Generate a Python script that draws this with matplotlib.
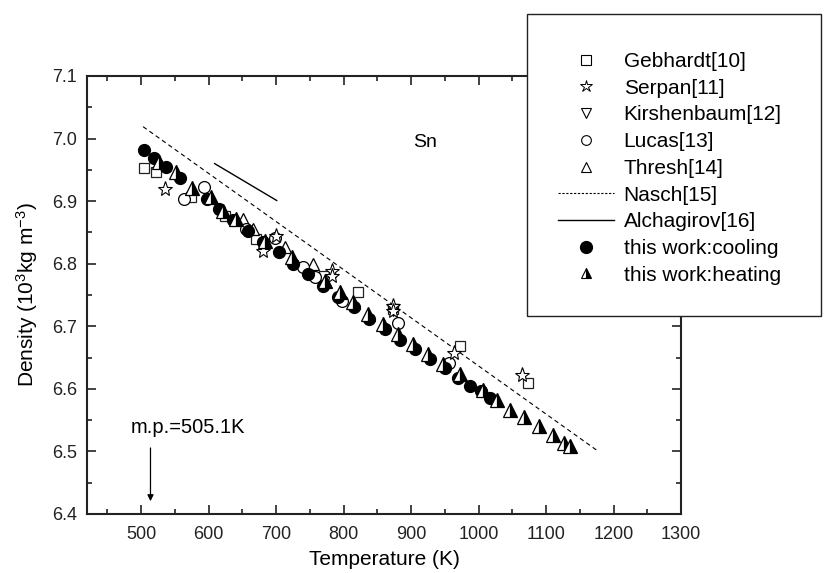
import matplotlib
matplotlib.use('Agg')
from matplotlib import pyplot as plt
from matplotlib.lines import Line2D
from matplotlib.patches import Rectangle
from matplotlib.ticker import MultipleLocator, FormatStrFormatter

plt.rcParams['font.family'] = ['Liberation Sans', 'DejaVu Sans']
plt.rcParams['mathtext.fontset'] = 'custom'
plt.rcParams['mathtext.rm'] = 'Liberation Sans'
plt.rcParams['mathtext.it'] = 'Liberation Sans:italic'

# this work, cooling (filled circles)
cool_T = [504, 519, 537, 557, 597, 616, 636, 658, 680, 704, 725, 747, 770,
          792, 815, 838, 861, 884, 906, 928, 951, 969, 988, 1003, 1017]
cool_D = [6.981, 6.969, 6.954, 6.937, 6.903, 6.888, 6.870, 6.853, 6.834,
          6.818, 6.800, 6.784, 6.765, 6.747, 6.730, 6.711, 6.695, 6.678,
          6.663, 6.648, 6.634, 6.618, 6.604, 6.597, 6.586]

# this work, heating (half filled triangles)
heat_T = [527, 552, 576, 604, 621, 641, 683, 723, 772, 795, 814, 836, 859,
          881, 903, 925, 948, 973, 1006, 1028, 1047, 1068, 1089, 1111,
          1127, 1136]
heat_D = [6.962, 6.946, 6.921, 6.906, 6.885, 6.872, 6.836, 6.810, 6.772,
          6.754, 6.739, 6.719, 6.703, 6.687, 6.671, 6.655, 6.639, 6.624,
          6.598, 6.582, 6.566, 6.555, 6.540, 6.526, 6.513, 6.508]

# literature data
geb_T = [504, 522, 574, 624, 671, 771, 822, 874, 973, 1073]
geb_D = [6.953, 6.947, 6.906, 6.877, 6.840, 6.781, 6.754, 6.728, 6.668, 6.609]
serp_T = [535, 680, 700, 783, 783, 874, 874, 963, 1065]
serp_D = [6.919, 6.821, 6.845, 6.789, 6.780, 6.733, 6.724, 6.658, 6.622]
kirsh_T = [874]
kirsh_D = [6.726]
lucas_T = [564, 594, 656, 698, 740, 758, 798, 881, 956]
lucas_D = [6.903, 6.923, 6.856, 6.841, 6.795, 6.778, 6.741, 6.705, 6.642]
thresh_T = [527, 651, 666, 713, 755]
thresh_D = [6.962, 6.872, 6.856, 6.826, 6.800]
nasch_T = [503, 1175]
nasch_D = [7.019, 6.502]
alch_T = [609, 701]
alch_D = [6.960, 6.901]

fig = plt.figure(figsize=(8.25, 5.73), dpi=100)
ax = fig.add_axes([0.1055, 0.103, 0.72, 0.7644])

ax.plot(nasch_T, nasch_D, color='black', lw=0.8, ls=(0, (4, 3)))
ax.plot(alch_T, alch_D, color='black', lw=1.0)
ax.plot(geb_T, geb_D, 's', ms=7.5, mfc='white', mec='#222222', mew=0.9, ls='none')
ax.plot(thresh_T, thresh_D, '^', ms=8.5, mfc='white', mec='black', mew=0.9, ls='none')
ax.plot(lucas_T, lucas_D, 'o', ms=8.5, mfc='white', mec='black', mew=0.9, ls='none')
ax.plot(kirsh_T, kirsh_D, 'v', ms=8.5, mfc='white', mec='black', mew=0.9, ls='none')
ax.plot(serp_T, serp_D, '*', ms=11, mfc='white', mec='black', mew=0.8, ls='none')
ax.plot(cool_T, cool_D, 'o', ms=8.5, color='black', ls='none')
ax.plot(heat_T, heat_D, '^', ms=9.5, mfc='black', mfcalt='white', mec='black',
        fillstyle='right', mew=0.9, ls='none')

ax.set_xlim(420, 1300)
ax.set_ylim(6.4, 7.1)
ax.xaxis.set_major_locator(MultipleLocator(100))
ax.xaxis.set_minor_locator(MultipleLocator(50))
ax.yaxis.set_major_locator(MultipleLocator(0.1))
ax.yaxis.set_minor_locator(MultipleLocator(0.05))
ax.yaxis.set_major_formatter(FormatStrFormatter('%.1f'))
ax.tick_params(which='both', direction='in', top=True, right=True,
               width=1.2, labelsize=13, colors='#222222')
ax.tick_params(which='major', length=6.5)
ax.tick_params(which='minor', length=3.5)
ax.tick_params(axis='x', pad=9)
ax.tick_params(axis='y', pad=7)
for s in ax.spines.values():
    s.set_linewidth(1.5)
    s.set_color('#222222')

ax.set_xlabel('Temperature (K)', fontsize=15, labelpad=5)
ax.set_ylabel('Density (10$^3$kg m$^{-3}$)', fontsize=15, labelpad=9)

ax.text(921, 6.993, 'Sn', fontsize=14, ha='center', va='center')
ax.annotate('', xy=(514, 6.416), xytext=(514, 6.510),
            arrowprops=dict(arrowstyle='-|>', color='black', lw=0.9,
                            mutation_scale=9))
ax.text(569, 6.539, 'm.p.=505.1K', fontsize=14.5, ha='center', va='center')

# legend box on top of the axes
box = Rectangle((0.6388, 0.4485), 0.3564, 0.527, transform=fig.transFigure,
                facecolor='white', edgecolor='#222222', lw=1.0, zorder=4)
fig.patches.append(box)

handles = [
    Line2D([], [], marker='s', ms=6.5, mfc='white', mec='black', mew=0.8, ls='none'),
    Line2D([], [], marker='*', ms=9, mfc='white', mec='black', mew=0.7, ls='none'),
    Line2D([], [], marker='v', ms=7, mfc='white', mec='black', mew=0.8, ls='none'),
    Line2D([], [], marker='o', ms=7, mfc='white', mec='black', mew=0.8, ls='none'),
    Line2D([], [], marker='^', ms=7, mfc='white', mec='black', mew=0.8, ls='none'),
    Line2D([], [], color='black', lw=0.8, ls=(0, (2, 1.5))),
    Line2D([], [], color='black', lw=1.0),
    Line2D([], [], marker='o', ms=8.5, color='black', ls='none'),
    Line2D([], [], marker='^', ms=7.5, mfc='black', mfcalt='white', mec='black',
           fillstyle='right', mew=0.8, ls='none'),
]
labels = ['Gebhardt[10]', 'Serpan[11]', 'Kirshenbaum[12]', 'Lucas[13]',
          'Thresh[14]', 'Nasch[15]', 'Alchagirov[16]', 'this work:cooling',
          'this work:heating']
leg = fig.legend(handles, labels, loc='upper left',
                 bbox_to_anchor=(558 / 825, 1 - 52 / 573), frameon=False,
                 fontsize=15, borderpad=0, borderaxespad=0, handlelength=2.7,
                 handletextpad=0.45, labelspacing=0.37)
leg.set_zorder(6)

fig.savefig('out.png', dpi=100)
